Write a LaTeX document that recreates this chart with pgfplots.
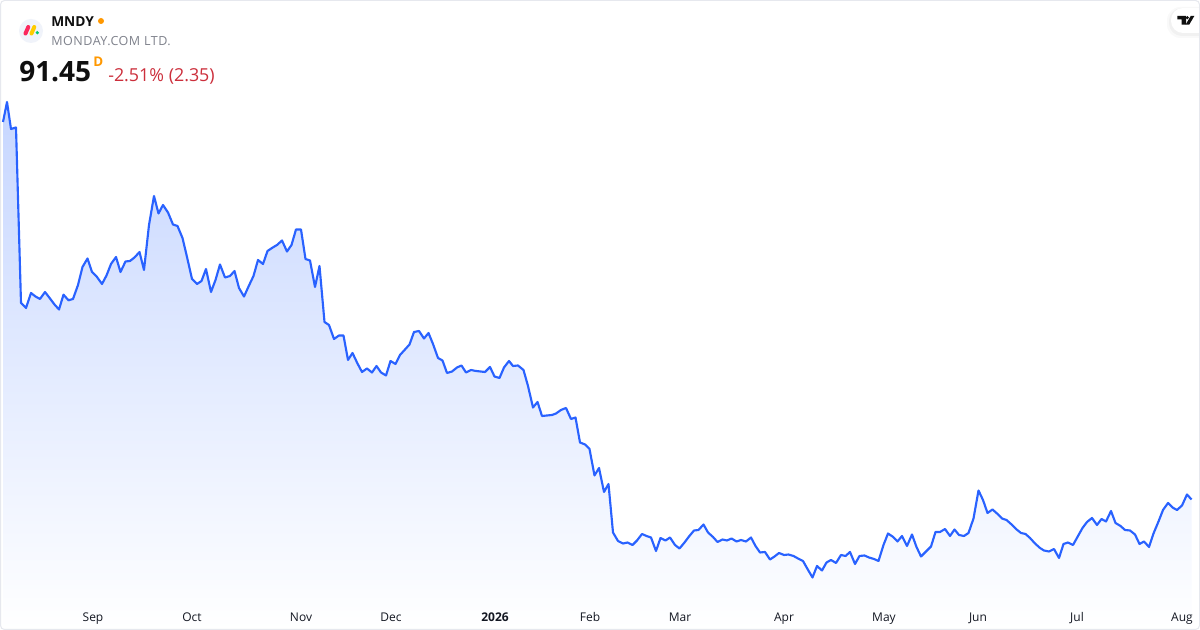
\documentclass[border=0pt]{standalone}
\usepackage{pgfplots}
\pgfplotsset{compat=1.18}
\usepackage{pgfplotstable}
\usepackage{fontspec}
\setmainfont{Open Sans}
\definecolor{tvblue}{HTML}{2962FF}
\definecolor{tvfill}{HTML}{C6D6FF}
\definecolor{tvink}{HTML}{0F0F0F}
\definecolor{tvtick}{HTML}{131722}
\definecolor{tvgrey}{HTML}{7F828C}
\definecolor{tvred}{HTML}{CC2F3C}
\definecolor{tvorange}{HTML}{FF9800}
\definecolor{tvframe}{HTML}{E6E8EE}
\definecolor{logobg}{HTML}{F0F3FA}
\definecolor{logored}{HTML}{FB275D}
\definecolor{logoyel}{HTML}{FFCC00}
\definecolor{logogrn}{HTML}{00CA72}
\pgfplotstableread{
x h
3 508
7 528
11 501
16 502.5
21 327
26 322
31 337
35.5 333.5
40 331
45 338
50 331.5
54.5 325.5
59 320.5
63.5 335.3
68.5 329.7
73 331
78 345
82.5 363
87.5 371.5
92 358
97 353
102 346
106.5 354.5
111 366
116 373
120.5 358
125.5 368.5
130 369
134.5 372.5
139.5 378
144 360
149 405
154 434
158.5 416.5
163 425
168 417.5
173 405.5
177.5 404
182.5 392
187 373
192 351
197 346
201.5 349
206 361
211 338
215.5 350
220 365.5
225 352.5
230 354
234.5 359
239 342
244 333.5
249 344.5
253.5 354
258 370
263 366
267.5 379
272 382
277 385
282 389.5
287 378.5
291.5 385
296 400.5
301 400.5
305.5 371
310 369.5
315 343
319.5 364
324.5 308
329 305
334 291
339 294.5
343.5 294.5
348 270
352.5 277
357.5 266.5
362 258
367 261.5
372 257.5
376.5 264
381 257.5
386 254.5
390.5 269
395.5 266
400 275
405 280.5
409.5 285.5
414 298
419 299
424 291.5
428.5 297
433 286
438 272
442.5 269.5
447 257
452 258.5
457 262.5
461.5 264.5
466 257.5
471 260
476 259
480.5 258.5
485 258
490 263
494.5 253.5
499.5 252
504 262.5
509 269
513 264
518 264.5
523.5 260
528 244
533 222.5
537.5 228
542 214
547 214.5
552 215
556 216.5
561 220
566 222
571 211
575.5 212.5
580 187.5
585 185.5
589.5 181
594.5 154.5
599 162
604 138
608.5 146
613 97.5
618 89
623 86.5
627.5 87.5
632.5 85
637 89.5
642 96
646.5 94
651 92.5
656 79
660.5 92
665.5 89.5
670 92.5
675 85
679.5 81.5
684.5 87.5
689 93.5
694 99.5
698.5 100
703.5 105.5
708 97.5
713 93
717.5 88
722.5 90.5
727 89.5
731.5 91.5
736.5 88.5
741 90
746 88.5
751 92.5
755.5 84
760 77.5
765 78
770 70.5
774.5 73.5
779 77
784 75
788.5 75.5
793.5 74
798 71.5
803 69
807.5 61
812.5 52.5
817 64
822 59.5
826.5 67.5
831 70
836 67
841 75
845.5 74
850 78
855 66
859.5 74
864.5 74.5
869 72.5
874 71
878.5 69
883.5 85
888 96.5
892.5 93.5
897.5 88.5
902 94
907 84
912 95.5
916.5 83
921 73.5
926 78.5
931 83.5
935.5 98
940 98
945 101
950 94
954.5 100.5
959 95
964 94
968.5 97
973.5 111.5
978.5 139.5
983 130
987.5 117
992.5 120.5
997 116.5
1002 111.5
1006.5 110
1011 106
1016 101
1021 97
1025.5 96
1030 92
1035 86.5
1040 82
1044 79.5
1049 78.5
1054 81
1059 72
1063.5 86
1068 87.5
1073 85
1078 94
1082.5 102
1087 108
1092 112
1097 105
1101.5 111
1106 108.5
1111 119
1115.5 107
1120.5 104
1125 100
1130 99.5
1135 95.5
1139.5 86
1144 88.5
1149 83
1153.5 96.5
1158.5 108.5
1163 120
1168 127
1172.5 122.5
1177 120
1182 124.5
1187 135.5
1191.5 130.5
}\pricedata
\begin{document}
\begin{tikzpicture}
\path[use as bounding box] (0,0) rectangle (900pt,472.5pt);
\fill[white] (0,0) rectangle (900pt,472.5pt);
\begin{axis}[
  at={(0,0)}, anchor=south west,
  scale only axis, width=900pt, height=472.5pt,
  xmin=0, xmax=1200, ymin=0, ymax=630,
  clip=false,
  axis on top=true,
  axis line style={draw=none},
  tick style={draw=none},
  major tick length=0pt,
  ytick=\empty,
  xtick={93,192,301,391,495,590,680,784,884,978,1077,1182},
  xticklabels={Sep,Oct,Nov,Dec,\textbf{2026},Feb,Mar,Apr,May,Jun,Jul,Aug},
  xticklabel style={anchor=base, yshift=6pt, inner sep=0pt, text=tvtick,
    font=\fontsize{9}{11}\selectfont},
]
\addplot[draw=none, top color=tvfill, bottom color=white, shading angle=0]
  table[x=x,y=h] {\pricedata} \closedcycle;
\addplot[tvblue, line width=1.6pt, line join=round, mark=none]
  table[x=x,y=h] {\pricedata};

% TradingView badge
\fill[black, opacity=0.025, rounded corners=10pt] (1167,592) rectangle (1230,623);
\fill[black, opacity=0.03, rounded corners=9.5pt] (1169,594) rectangle (1230,622);
\fill[white, rounded corners=9pt] (1171,597) rectangle (1230,622);
\fill[tvink] (1177.3,614) -- (1186,614) -- (1186,605.3) -- (1181.7,605.3) -- (1181.7,610.5) -- (1177.3,610.5) -- cycle;
\fill[tvink] (1187.3,612.3) circle[radius=1.3pt];
\fill[tvink] (1190.7,614) -- (1194.3,614) -- (1189.2,605.3) -- (1185.6,605.3) -- cycle;

% frame
\draw[tvframe, line width=0.75pt, rounded corners=3pt] (0.5,0.5) rectangle (1199.5,629.5);

% logo
\fill[logobg] (31,599) circle[radius=9pt];
\draw[logored, line width=3pt, line cap=round] (25.5,596.5) -- (28.3,603);
\draw[logoyel, line width=3pt, line cap=round] (31.5,596.5) -- (34.3,603);
\fill[logogrn] (37.3,597.3) circle[radius=1.35pt];

% header text
\node[anchor=base west, inner sep=0pt, text=tvink, font=\fontsize{10.3}{12}\selectfont\bfseries] at (51,603.5) {MNDY};
\fill[tvorange] (101,609) circle[radius=2.25pt];
\node[anchor=base west, inner sep=0pt, text=tvgrey, font=\fontsize{9.4}{12}\selectfont\addfontfeatures{LetterSpace=4.2}] at (51,584) {MONDAY.COM LTD.};
\node[anchor=base west, inner sep=0pt, text=tvink, font=\fontsize{21}{24}\selectfont\bfseries] at (19,548.5) {91.45};
\node[anchor=base west, inner sep=0pt, text=tvorange, font=\fontsize{10}{12}\selectfont\bfseries] at (93,563) {D};
\node[anchor=base west, inner sep=0pt, text=tvred, font=\fontsize{13.4}{16}\selectfont] at (108,548.5) {-2.51\% (2.35)};
\end{axis}
\end{tikzpicture}
\end{document}
